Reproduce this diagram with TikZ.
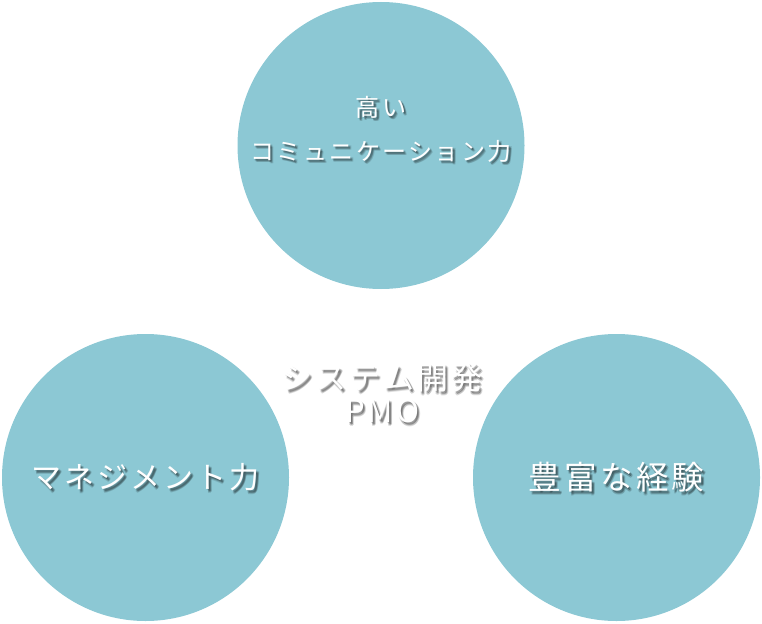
\documentclass[tikz,border=0pt]{standalone}
\usepackage{fontspec}
\newfontfamily\jp[LetterSpace=10]{Noto Sans CJK JP}
\usetikzlibrary{calc}
\definecolor{bubble}{RGB}{140,200,212}
\tikzset{
  circ/.style={circle, fill=bubble, minimum size=287pt, inner sep=0pt},
  word/.style={text=white, align=center, inner sep=0pt},
  shade/.style={word, text=black, text opacity=0.12}
}
\newcommand{\shadowed}[4]{% name, place, font, text
  \foreach \dx/\dy in {1/1,2/2,1.5/2.5,2.5/1.5,3/3,2/3.5}
    \node[shade,font=#3] at ($(#2)+(\dx,\dy)$) {#4};
  \node[word,font=#3] (#1) at (#2) {#4};
}

\begin{document}
\begin{tikzpicture}[x=1pt,y=-1pt]
\useasboundingbox (0,0) rectangle (762,623);
\node [circ] (top) at (381,145.5) {};
\node [circ] (left) at (145.5,477.5) {};
\node [circ] (right) at (616.5,477.5) {};
\coordinate (mid) at (382,393.5);
\shadowed{toptext}{top.center|-0,129}{\jp\fontsize{24}{44}\selectfont}{高い\\コミュニケーション力}
\shadowed{lefttext}{left}{\jp\fontsize{30}{36}\selectfont}{マネジメント力}
\shadowed{righttext}{right}{\jp\fontsize{32.5}{38}\selectfont}{豊富な経験}
\shadowed{midtext}{mid}{\jp\fontsize{31}{33}\selectfont}{システム開発\\PMO}
\end{tikzpicture}
\end{document}
